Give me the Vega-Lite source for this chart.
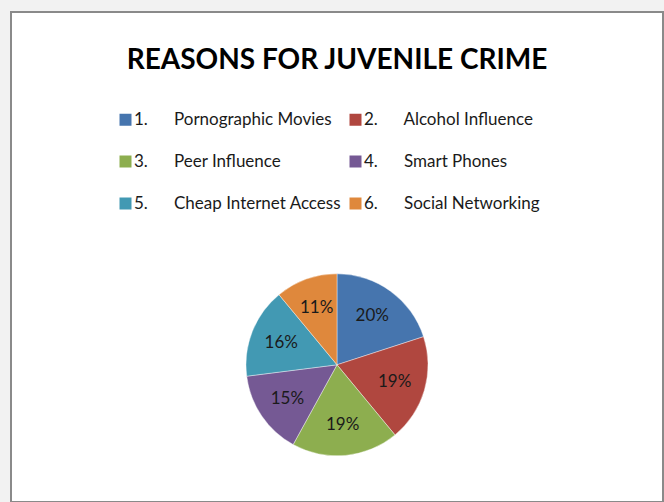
{
  "$schema": "https://vega.github.io/schema/vega-lite/v6.json",
  "autosize": {"type": "none"},
  "width": 652,
  "height": 490,
  "padding": {"left": 11, "top": 12, "right": 1, "bottom": 0},
  "background": "#f2f2f2",
  "config": {
    "view": {"fill": "#ffffff", "stroke": "#8a8a8a", "strokeWidth": 2},
    "font": "Lato"
  },
  "title": {
    "text": "REASONS FOR JUVENILE CRIME",
    "font": "Lato",
    "fontSize": 28,
    "fontWeight": "bold",
    "color": "#000000",
    "anchor": "middle",
    "frame": "group",
    "baseline": "alphabetic",
    "offset": -85
  },
  "data": {
    "values": [
      {"idx": 1, "reason": "1.\u00a0\u00a0\u00a0\u00a0\u00a0\u00a0Pornographic Movies", "share": 0.20},
      {"idx": 2, "reason": "2.\u00a0\u00a0\u00a0\u00a0\u00a0\u00a0Alcohol Influence", "share": 0.19},
      {"idx": 3, "reason": "3.\u00a0\u00a0\u00a0\u00a0\u00a0\u00a0Peer Influence", "share": 0.19},
      {"idx": 4, "reason": "4.\u00a0\u00a0\u00a0\u00a0\u00a0\u00a0Smart Phones", "share": 0.15},
      {"idx": 5, "reason": "5.\u00a0\u00a0\u00a0\u00a0\u00a0\u00a0Cheap Internet Access", "share": 0.16},
      {"idx": 6, "reason": "6.\u00a0\u00a0\u00a0\u00a0\u00a0\u00a0Social Networking", "share": 0.11}
    ]
  },
  "encoding": {
    "theta": {"field": "share", "type": "quantitative", "stack": true},
    "order": {"field": "idx", "type": "quantitative"},
    "y": {"datum": 0.28, "type": "quantitative", "scale": {"domain": [0, 1]}, "axis": null}
  },
  "layer": [
    {
      "mark": {"type": "arc", "outerRadius": 91, "stroke": "#ffffff", "strokeWidth": 0.4},
      "encoding": {
        "color": {
          "field": "reason",
          "type": "nominal",
          "scale": {
            "domain": [
              "1.\u00a0\u00a0\u00a0\u00a0\u00a0\u00a0Pornographic Movies",
              "3.\u00a0\u00a0\u00a0\u00a0\u00a0\u00a0Peer Influence",
              "5.\u00a0\u00a0\u00a0\u00a0\u00a0\u00a0Cheap Internet Access",
              "2.\u00a0\u00a0\u00a0\u00a0\u00a0\u00a0Alcohol Influence",
              "4.\u00a0\u00a0\u00a0\u00a0\u00a0\u00a0Smart Phones",
              "6.\u00a0\u00a0\u00a0\u00a0\u00a0\u00a0Social Networking"
            ],
            "range": ["#4675AE", "#8DAE4F", "#4299B3", "#B0473F", "#755994", "#DF883C"]
          },
          "legend": {
            "title": null,
            "orient": "none",
            "legendX": 106,
            "legendY": 99,
            "columns": 2,
            "columnPadding": 5,
            "rowPadding": 24,
            "symbolType": "square",
            "symbolSize": 144,
            "symbolStrokeWidth": 0,
            "labelOffset": 0,
            "labelFont": "Lato",
            "labelFontSize": 17,
            "labelColor": "#1a1a1a",
            "labelLimit": 400
          }
        }
      }
    },
    {
      "mark": {"type": "text", "radius": 60, "font": "Lato", "fontSize": 17, "color": "#1a1a1a"},
      "encoding": {
        "text": {"field": "share", "type": "quantitative", "format": ".0%"}
      }
    }
  ]
}
